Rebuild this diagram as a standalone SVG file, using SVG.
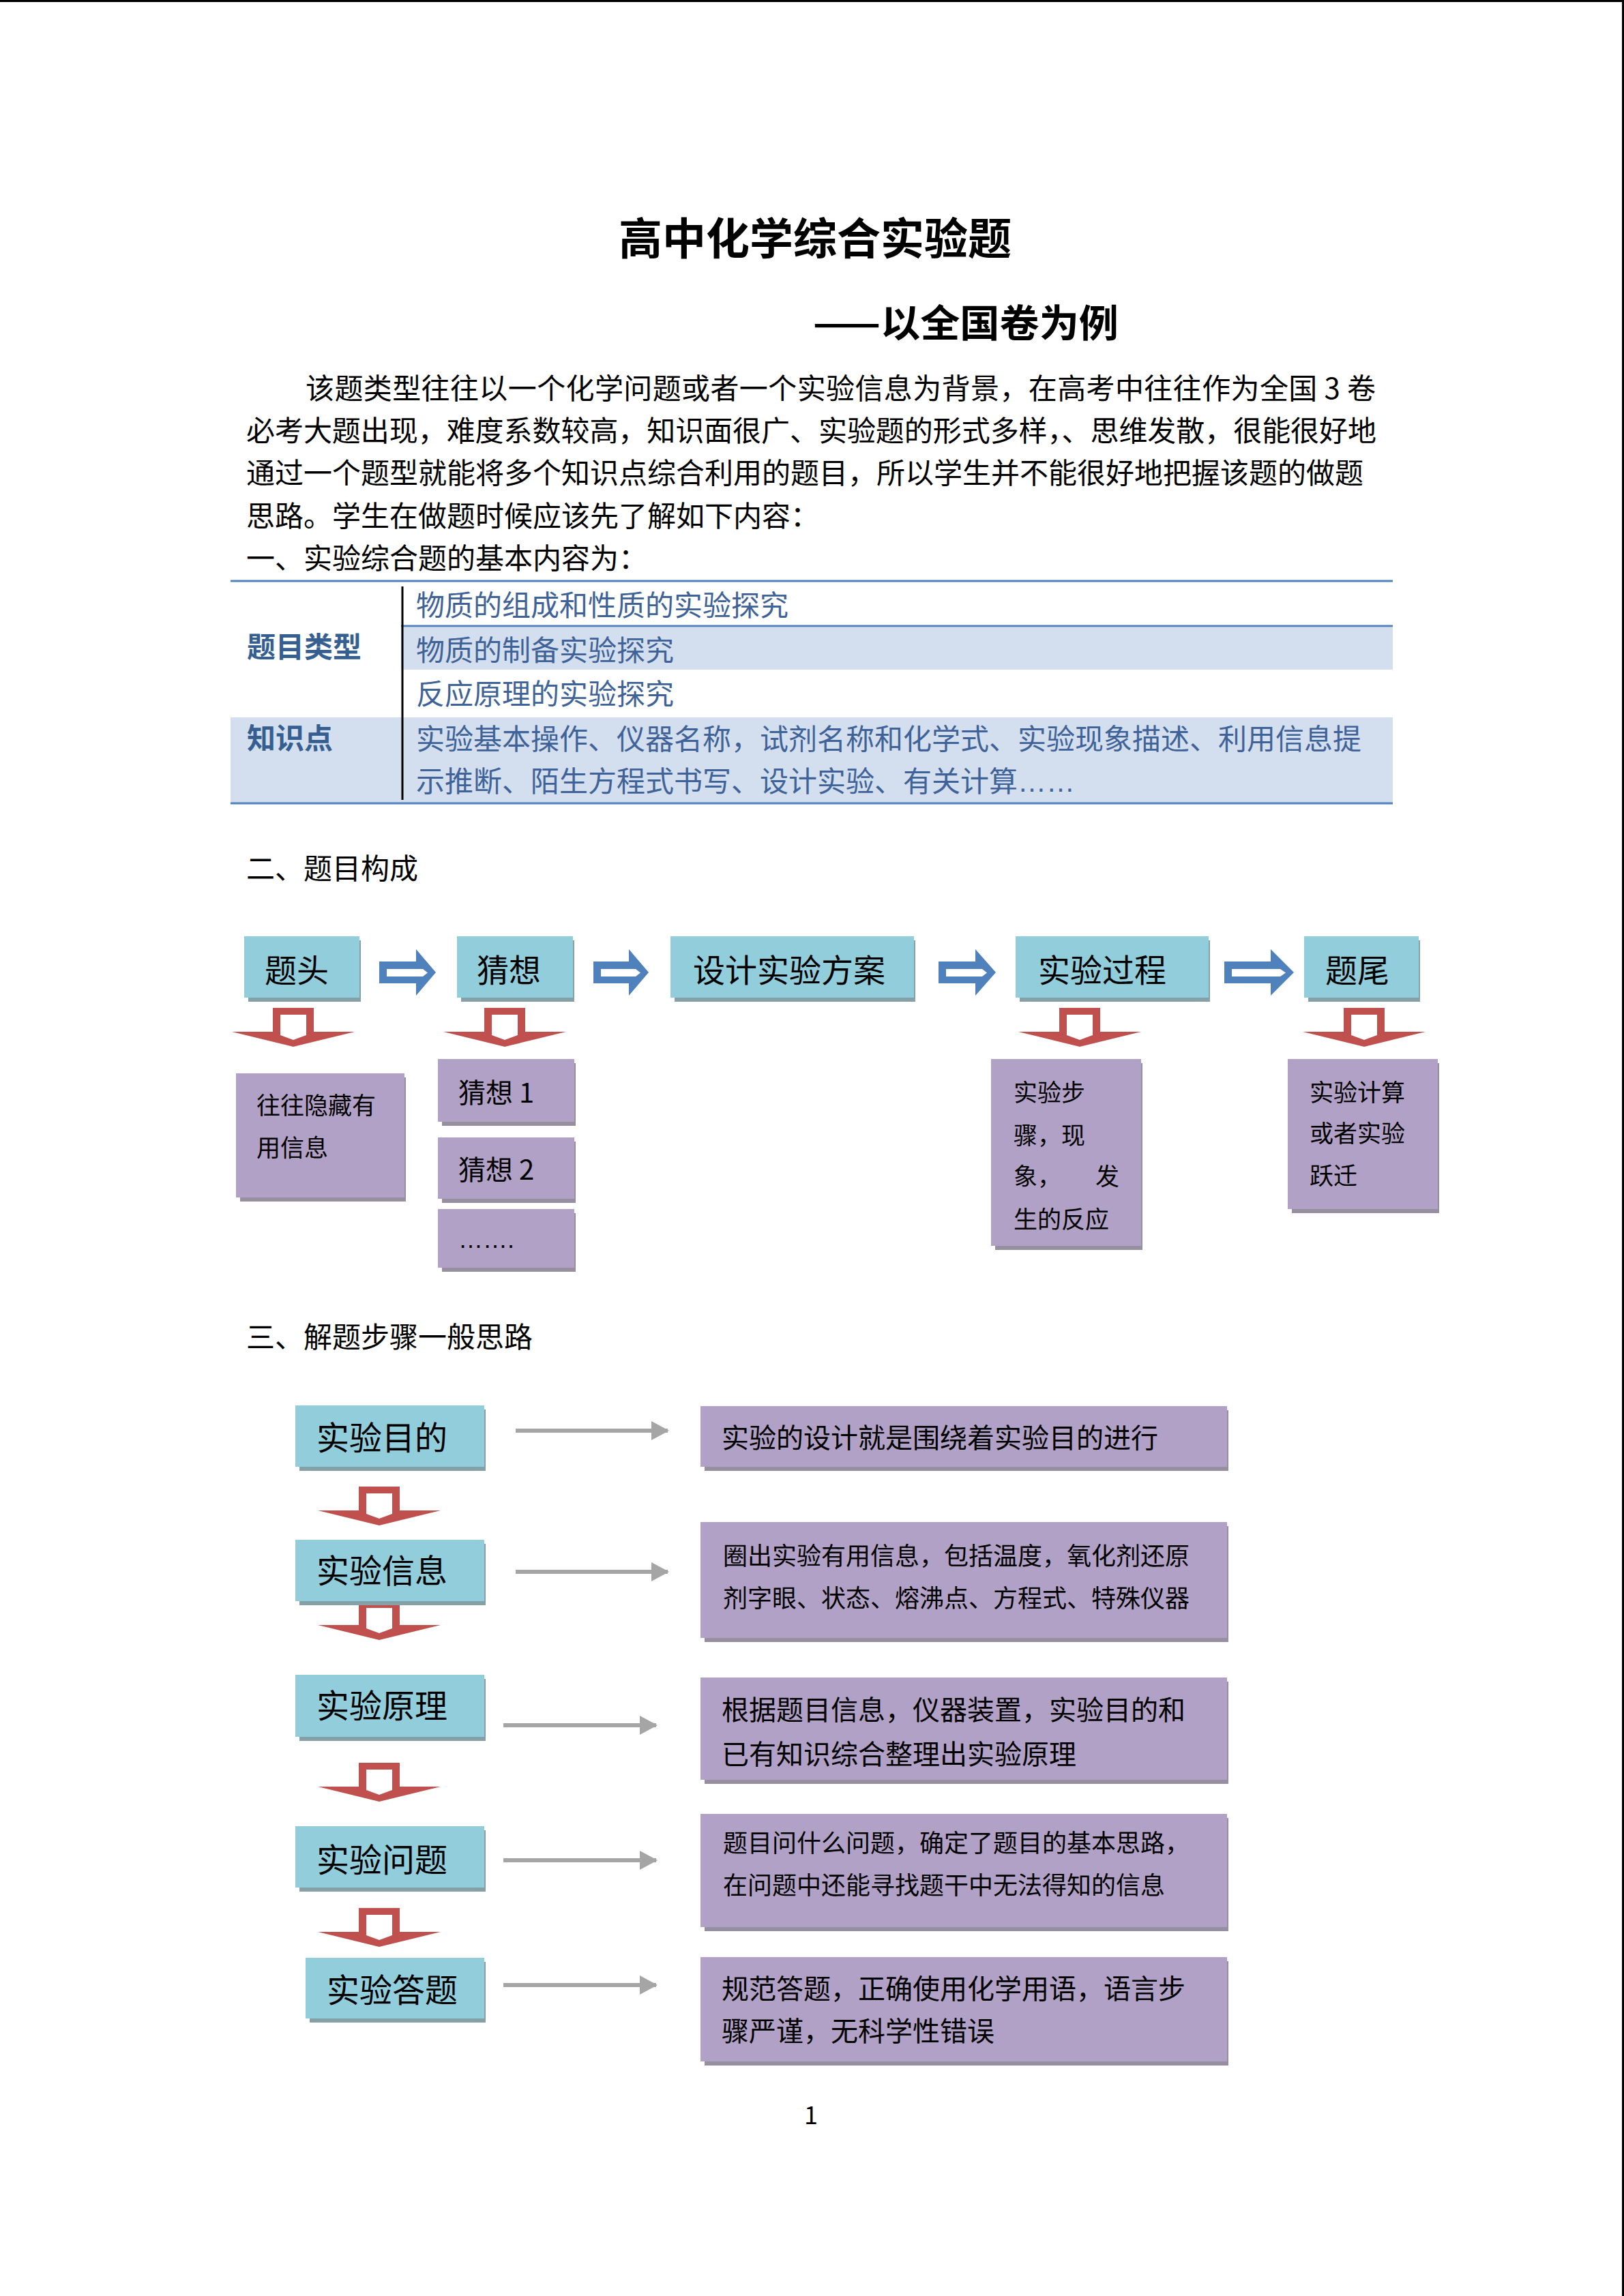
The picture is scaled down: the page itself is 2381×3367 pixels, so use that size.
<svg xmlns="http://www.w3.org/2000/svg" width="2381" height="3367" viewBox="0 0 2381 3367">
<style>
text{font-family:"Noto Sans CJK SC","Noto Sans",sans-serif;fill:#000}
.title{font-size:64px;font-weight:bold}
.sub{font-size:56px;font-weight:bold}
.body{font-size:42px}
.th{font-size:42px;font-weight:bold;fill:#365F91}
.td{font-size:42px;fill:#3F6398}
.teal{fill:#92CDDC}
.tsh{fill:#86A0A8}
.pur{fill:#B2A1C7}
.psh{fill:#958FA0}
.bt{font-size:47px}
.bt2{font-size:48px}
.pt35{font-size:35px}
.pt36{font-size:36px}
.pt40{font-size:40px}
.blue{fill:#4F81BD}
.red{fill:#C0504D}
.wh{fill:#FFFFFF}
.gline{stroke:#A5A5A5;stroke-width:6;fill:none}
.tline{stroke:#4F81BD;stroke-width:3}
.dots{font-family:"Liberation Sans",sans-serif}
</style>
<defs>
<g id="downArrow">
<path class="red" d="M-30,0 H30 V35 H90 L0,57 L-90,35 H-30 Z"/>
<path class="wh" d="M-19,10 H19 V40 L0,47 L-19,40 Z"/>
</g>
<marker id="gh" markerWidth="26" markerHeight="28" refX="24" refY="14" orient="auto" markerUnits="userSpaceOnUse">
<path d="M0,0 L26,14 L0,28 Z" fill="#A5A5A5"/>
</marker>
</defs>
<rect width="2381" height="3367" fill="#FFFFFF"/>
<rect x="0" y="0" width="2381" height="3" fill="#000"/>
<rect x="2378" y="0" width="3" height="3367" fill="#000"/>

<g id="header">
<text class="title" x="1195" y="373" text-anchor="middle">高中化学综合实验题</text>
<text class="sub" x="1192" y="494" textLength="448" lengthAdjust="spacingAndGlyphs">——以全国卷为例</text>
<text class="body" x="448" y="585" textLength="1569" lengthAdjust="spacing">该题类型往往以一个化学问题或者一个实验信息为背景，在高考中往往作为全国 3 卷</text>
<text class="body" x="361" y="647" textLength="1657" lengthAdjust="spacing">必考大题出现，难度系数较高，知识面很广、实验题的形式多样，、思维发散，很能很好地</text>
<text class="body" x="361" y="709" textLength="1638" lengthAdjust="spacing">通过一个题型就能将多个知识点综合利用的题目，所以学生并不能很好地把握该题的做题</text>
<text class="body" x="361" y="772">思路。学生在做题时候应该先了解如下内容：</text>
<text class="body" x="361" y="834">一、实验综合题的基本内容为：</text>
</g>

<g id="table">
<rect x="588" y="920" width="1454" height="62" fill="#D3DFEE"/>
<rect x="338" y="1052" width="1704" height="125" fill="#D3DFEE"/>
<line class="tline" x1="338" y1="852" x2="2042" y2="852"/>
<line class="tline" x1="588" y1="918" x2="2042" y2="918"/>
<line class="tline" x1="338" y1="1178" x2="2042" y2="1178"/>
<line x1="590" y1="860" x2="590" y2="1173" stroke="#000" stroke-width="3"/>
<text class="th" x="362" y="964">题目类型</text>
<text class="th" x="362" y="1098">知识点</text>
<text class="td" x="610" y="903">物质的组成和性质的实验探究</text>
<text class="td" x="610" y="969">物质的制备实验探究</text>
<text class="td" x="610" y="1033">反应原理的实验探究</text>
<text class="td" x="610" y="1099">实验基本操作、仪器名称，试剂名称和化学式、实验现象描述、利用信息提</text>
<text class="td" x="610" y="1161">示推断、陌生方程式书写、设计实验、有关计算<tspan class="dots">……</tspan></text>
</g>

<text class="body" x="361" y="1289">二、题目构成</text>

<g id="flow-connectors">
<path class="blue" d="M556,1410 H610 V1392 L639,1426 L610,1460 V1442 H556 Z"/>
<path class="wh" d="M567,1421 H620 L627,1426.5 L620,1432 H567 Z"/>
<path class="blue" d="M870,1410 H922 V1392 L951,1426 L922,1460 V1442 H870 Z"/>
<path class="wh" d="M881,1421 H932 L939,1426.5 L932,1432 H881 Z"/>
<path class="blue" d="M1376,1410 H1430 V1392 L1460,1426 L1430,1460 V1442 H1376 Z"/>
<path class="wh" d="M1387,1421 H1440 L1447,1426.5 L1440,1432 H1387 Z"/>
<path class="blue" d="M1795,1410 H1863 V1392 L1897,1426 L1863,1460 V1442 H1795 Z"/>
<path class="wh" d="M1806,1421 H1877 L1885,1426.5 L1877,1432 H1806 Z"/>
<use href="#downArrow" x="430" y="1478"/>
<use href="#downArrow" x="740" y="1478"/>
<use href="#downArrow" x="1583" y="1478"/>
<use href="#downArrow" x="2000" y="1478"/>
</g>

<g id="n-titou">
<rect class="tsh" x="364" y="1379" width="165" height="90"/>
<rect class="teal" x="358" y="1373" width="169" height="90"/>
<text class="bt" x="435" y="1440" text-anchor="middle">题头</text>
</g>
<g id="n-caixiang">
<rect class="tsh" x="676" y="1379" width="166" height="90"/>
<rect class="teal" x="670" y="1373" width="170" height="90"/>
<text class="bt" x="746" y="1440" text-anchor="middle">猜想</text>
</g>
<g id="n-sheji">
<rect class="tsh" x="989" y="1379" width="353" height="90"/>
<rect class="teal" x="983" y="1373" width="357" height="90"/>
<text class="bt" x="1157" y="1440" text-anchor="middle">设计实验方案</text>
</g>
<g id="n-guocheng">
<rect class="tsh" x="1495" y="1379" width="279" height="90"/>
<rect class="teal" x="1489" y="1373" width="283" height="90"/>
<text class="bt" x="1616" y="1440" text-anchor="middle">实验过程</text>
</g>
<g id="n-tiwei">
<rect class="tsh" x="1918" y="1379" width="164" height="90"/>
<rect class="teal" x="1912" y="1373" width="168" height="90"/>
<text class="bt" x="1990" y="1440" text-anchor="middle">题尾</text>
</g>

<g id="n-yincang">
<rect class="psh" x="352" y="1580" width="243" height="182"/>
<rect class="pur" x="346" y="1574" width="247" height="182"/>
<text class="pt35" x="376" y="1634">往往隐藏有</text>
<text class="pt35" x="376" y="1696">用信息</text>
</g>
<g id="n-cx1">
<rect class="psh" x="648" y="1559" width="196" height="92"/>
<rect class="pur" x="642" y="1553" width="200" height="92"/>
<text class="pt40" x="672" y="1617">猜想 1</text>
</g>
<g id="n-cx2">
<rect class="psh" x="648" y="1674" width="196" height="90"/>
<rect class="pur" x="642" y="1668" width="200" height="90"/>
<text class="pt40" x="672" y="1730">猜想 2</text>
</g>
<g id="n-cx3">
<rect class="psh" x="648" y="1779" width="196" height="86"/>
<rect class="pur" x="642" y="1773" width="200" height="86"/>
<text class="pt36 dots" x="672" y="1830">…….</text>
</g>
<g id="n-buzhou">
<rect class="psh" x="1459" y="1559" width="216" height="274"/>
<rect class="pur" x="1453" y="1553" width="220" height="274"/>
<text class="pt35" x="1486" y="1615">实验步</text>
<text class="pt35" x="1486" y="1678">骤，现</text>
<text class="pt35" x="1486" y="1738">象，<tspan x="1606">发</tspan></text>
<text class="pt35" x="1486" y="1801">生的反应</text>
</g>
<g id="n-jisuan">
<rect class="psh" x="1894" y="1559" width="216" height="220"/>
<rect class="pur" x="1888" y="1553" width="220" height="220"/>
<text class="pt35" x="1920" y="1615">实验计算</text>
<text class="pt35" x="1920" y="1675">或者实验</text>
<text class="pt35" x="1920" y="1737">跃迁</text>
</g>

<text class="body" x="361" y="1976">三、解题步骤一般思路</text>

<g id="steps-connectors">
<use href="#downArrow" x="556" y="2180"/>
<use href="#downArrow" x="556" y="2348"/>
<use href="#downArrow" x="556" y="2585"/>
<use href="#downArrow" x="556" y="2798"/>
<line class="gline" x1="756" y1="2098" x2="979" y2="2098" marker-end="url(#gh)"/>
<line class="gline" x1="756" y1="2305" x2="979" y2="2305" marker-end="url(#gh)"/>
<line class="gline" x1="738" y1="2530" x2="962" y2="2530" marker-end="url(#gh)"/>
<line class="gline" x1="738" y1="2728" x2="962" y2="2728" marker-end="url(#gh)"/>
<line class="gline" x1="738" y1="2911" x2="962" y2="2911" marker-end="url(#gh)"/>
</g>

<g id="s-mudi">
<rect class="tsh" x="439" y="2067" width="273" height="90"/>
<rect class="teal" x="433" y="2061" width="277" height="90"/>
<text class="bt2" x="560" y="2126" text-anchor="middle">实验目的</text>
</g>
<g id="s-xinxi">
<rect class="tsh" x="439" y="2264" width="273" height="90"/>
<rect class="teal" x="433" y="2258" width="277" height="90"/>
<text class="bt2" x="560" y="2321" text-anchor="middle">实验信息</text>
</g>
<g id="s-yuanli">
<rect class="tsh" x="439" y="2462" width="273" height="91"/>
<rect class="teal" x="433" y="2456" width="277" height="91"/>
<text class="bt2" x="560" y="2519" text-anchor="middle">实验原理</text>
</g>
<g id="s-wenti">
<rect class="tsh" x="439" y="2684" width="273" height="90"/>
<rect class="teal" x="433" y="2678" width="277" height="90"/>
<text class="bt2" x="560" y="2745" text-anchor="middle">实验问题</text>
</g>
<g id="s-dati">
<rect class="tsh" x="454" y="2877" width="258" height="89"/>
<rect class="teal" x="448" y="2871" width="262" height="89"/>
<text class="bt2" x="575" y="2936" text-anchor="middle">实验答题</text>
</g>

<g id="r-1">
<rect class="psh" x="1033" y="2068" width="768" height="89"/>
<rect class="pur" x="1027" y="2062" width="772" height="89"/>
<text class="pt40" x="1058" y="2123">实验的设计就是围绕着实验目的进行</text>
</g>
<g id="r-2">
<rect class="psh" x="1033" y="2238" width="768" height="170"/>
<rect class="pur" x="1027" y="2232" width="772" height="170"/>
<text class="pt36" x="1060" y="2295">圈出实验有用信息，包括温度，氧化剂还原</text>
<text class="pt36" x="1060" y="2357">剂字眼、状态、熔沸点、方程式、特殊仪器</text>
</g>
<g id="r-3">
<rect class="psh" x="1033" y="2466" width="768" height="150"/>
<rect class="pur" x="1027" y="2460" width="772" height="150"/>
<text class="pt40" x="1058" y="2522">根据题目信息，仪器装置，实验目的和</text>
<text class="pt40" x="1058" y="2587">已有知识综合整理出实验原理</text>
</g>
<g id="r-4">
<rect class="psh" x="1033" y="2666" width="768" height="166"/>
<rect class="pur" x="1027" y="2660" width="772" height="166"/>
<text class="pt36" x="1060" y="2716">题目问什么问题，确定了题目的基本思路，</text>
<text class="pt36" x="1060" y="2778">在问题中还能寻找题干中无法得知的信息</text>
</g>
<g id="r-5">
<rect class="psh" x="1033" y="2876" width="768" height="153"/>
<rect class="pur" x="1027" y="2870" width="772" height="153"/>
<text class="pt40" x="1058" y="2931">规范答题，正确使用化学用语，语言步</text>
<text class="pt40" x="1058" y="2993">骤严谨，无科学性错误</text>
</g>

<text x="1189" y="3115" font-size="36" text-anchor="middle">1</text>
</svg>
